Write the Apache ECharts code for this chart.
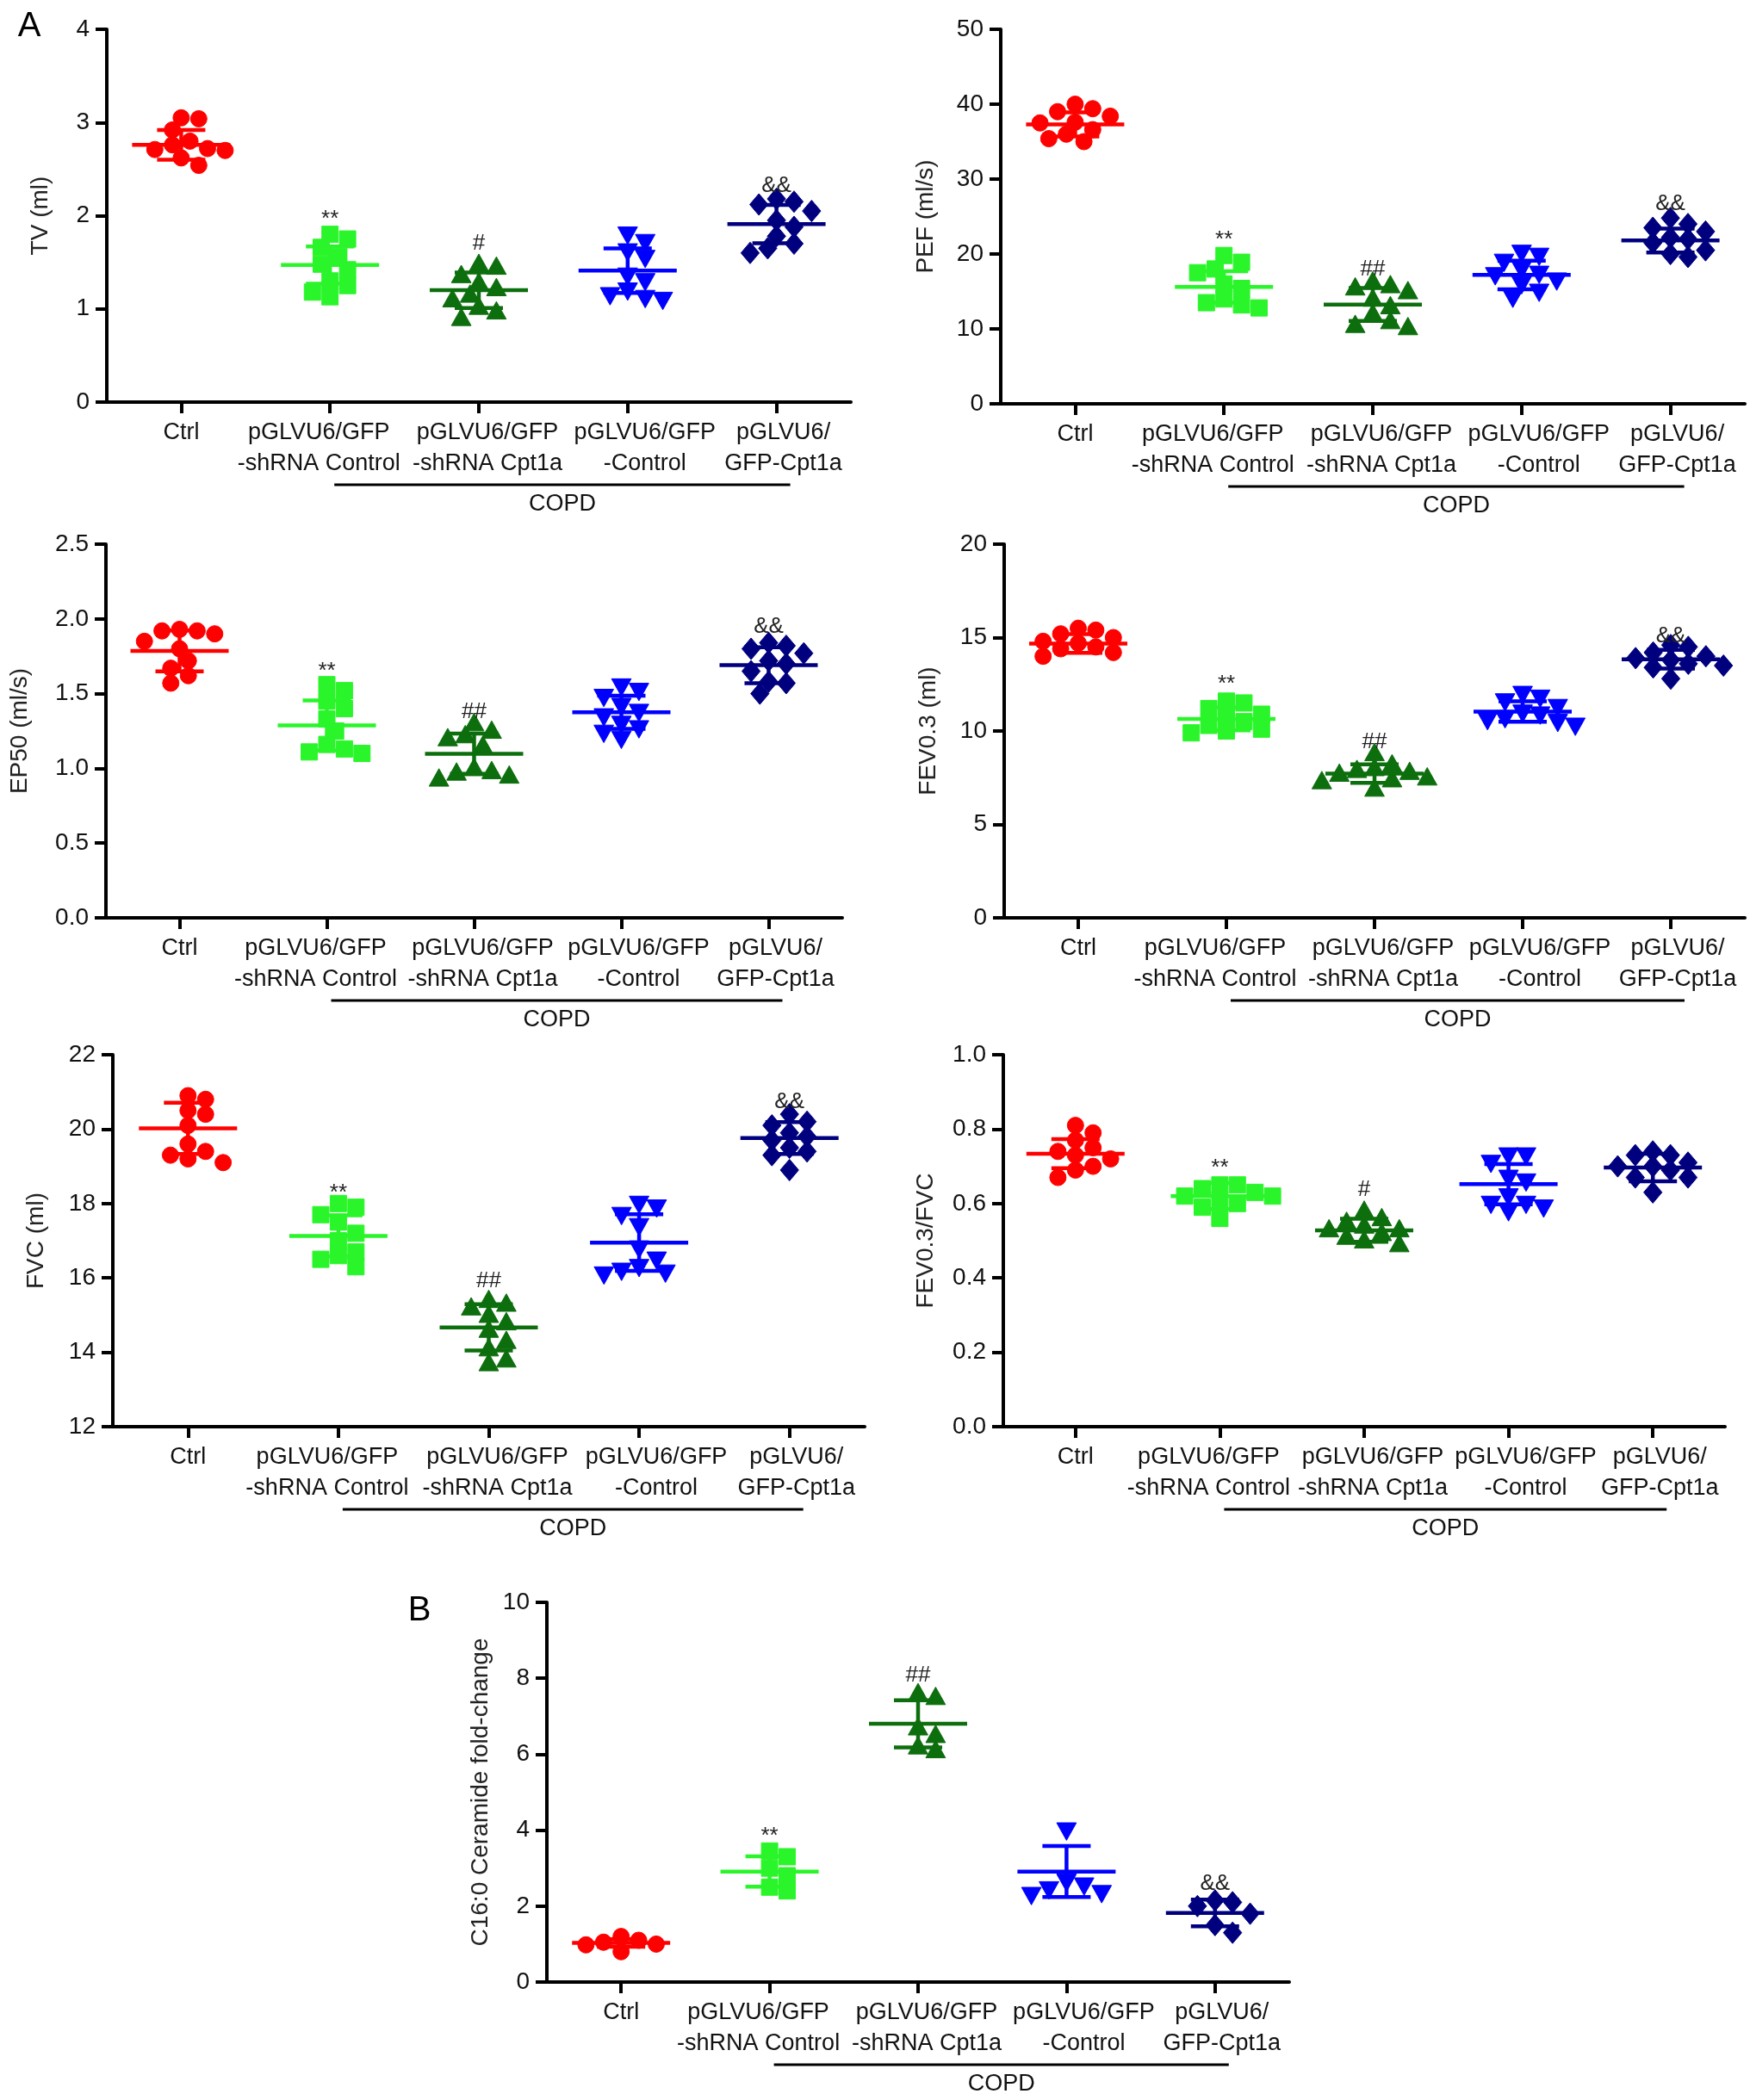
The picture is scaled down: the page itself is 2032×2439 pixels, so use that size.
<!DOCTYPE html>
<html><head><meta charset="utf-8">
<script src="https://cdn.jsdelivr.net/npm/echarts@6/dist/echarts.min.js"></script>
<style>html,body{margin:0;padding:0;background:#fff}#c{width:2032px;height:2439px}</style>
</head><body><div id="c"></div>
<script>
// ---------- categories ----------
const categories = ['Ctrl', 'pGLVU6/GFP\n-shRNA Control', 'pGLVU6/GFP\n-shRNA Cpt1a', 'pGLVU6/GFP\n-Control', 'pGLVU6/\nGFP-Cpt1a'];
const bracketLabel = 'COPD';

// ---------- TV (ml) ----------
const tvCtrl      = [3.05, 3.04, 2.92, 2.80, 2.76, 2.72, 2.71, 2.70, 2.62, 2.54];
const tvShControl = [1.80, 1.75, 1.66, 1.56, 1.48, 1.42, 1.30, 1.25, 1.18, 1.13];
const tvShCpt1a   = [1.48, 1.45, 1.36, 1.28, 1.22, 1.15, 1.10, 1.02, 0.97, 0.90];
const tvControl   = [1.80, 1.72, 1.62, 1.55, 1.36, 1.30, 1.20, 1.15, 1.12, 1.10];
const tvCpt1a     = [2.18, 2.15, 2.12, 2.05, 1.95, 1.88, 1.78, 1.70, 1.65, 1.60];
const tvMean = [2.76, 1.47, 1.20, 1.41, 1.91];
const tvSD   = [0.16, 0.20, 0.19, 0.24, 0.205];
const tvMarks = ['', '**', '#', '', '&&'];
const tvMarkAt = [null, 1.96, 1.70, null, 2.32];
const tvTicks = [0, 1, 2, 3, 4];

// ---------- PEF (ml/s) ----------
const pefCtrl      = [40.0, 39.4, 39.0, 38.4, 37.6, 37.5, 36.6, 36.0, 35.4, 35.0];
const pefShControl = [19.8, 18.9, 18.0, 17.5, 16.0, 15.4, 14.0, 13.5, 13.2, 12.8];
const pefShCpt1a   = [16.3, 15.8, 15.5, 15.0, 14.0, 13.0, 12.0, 11.0, 10.5, 10.2];
const pefControl   = [20.2, 19.8, 19.0, 18.0, 17.4, 17.2, 16.5, 16.0, 15.0, 14.2];
const pefCpt1a     = [24.8, 24.0, 23.5, 23.0, 22.2, 22.0, 21.5, 20.5, 20.0, 19.6];
const pefMean = [37.3, 15.6, 13.25, 17.2, 21.8];
const pefSD   = [1.6, 2.1, 2.2, 1.9, 1.6];
const pefMarks = ['', '**', '##', '', '&&'];
const pefMarkAt = [null, 21.9, 17.9, null, 26.7];
const pefTicks = [0, 10, 20, 30, 40, 50];

// ---------- EP50 (ml/s) ----------
const ep50Ctrl      = [1.93, 1.92, 1.92, 1.90, 1.85, 1.80, 1.72, 1.67, 1.62, 1.57];
const ep50ShControl = [1.56, 1.52, 1.45, 1.40, 1.33, 1.25, 1.16, 1.13, 1.11, 1.10];
const ep50ShCpt1a   = [1.30, 1.25, 1.22, 1.20, 1.15, 1.00, 0.98, 0.97, 0.95, 0.93];
const ep50Control   = [1.55, 1.52, 1.48, 1.42, 1.38, 1.35, 1.30, 1.27, 1.24, 1.20];
const ep50Cpt1a     = [1.84, 1.82, 1.80, 1.77, 1.72, 1.70, 1.65, 1.58, 1.57, 1.50];
const ep50Mean = [1.786, 1.287, 1.098, 1.375, 1.69];
const ep50SD   = [0.137, 0.167, 0.135, 0.111, 0.12];
const ep50Marks = ['', '**', '##', '', '&&'];
const ep50MarkAt = [null, 1.65, 1.38, null, 1.95];
const ep50Ticks = [0.0, 0.5, 1.0, 1.5, 2.0, 2.5];

// ---------- FEV0.3 (ml) ----------
const fevCtrl      = [15.5, 15.4, 15.2, 15.0, 14.8, 14.7, 14.5, 14.4, 14.2, 14.0];
const fevShControl = [11.6, 11.5, 11.2, 10.9, 10.8, 10.5, 10.3, 10.1, 10.0, 9.9];
const fevShCpt1a   = [8.8, 8.2, 8.0, 7.9, 7.8, 7.7, 7.5, 7.4, 7.3, 6.9];
const fevControl   = [12.0, 11.8, 11.6, 11.3, 11.0, 10.9, 10.7, 10.6, 10.5, 10.3];
const fevCpt1a     = [14.6, 14.5, 14.2, 14.0, 13.9, 13.8, 13.6, 13.5, 13.4, 12.8];
const fevMean = [14.68, 10.65, 7.72, 11.04, 13.84];
const fevSD   = [0.5, 0.62, 0.5, 0.55, 0.5];
const fevMarks = ['', '**', '##', '', '&&'];
const fevMarkAt = [null, 12.5, 9.4, null, 15.1];
const fevTicks = [0, 5, 10, 15, 20];

// ---------- FVC (ml) ----------
const fvcCtrl      = [20.9, 20.8, 20.5, 20.4, 20.1, 19.6, 19.4, 19.3, 19.2, 19.1];
const fvcShControl = [18.0, 17.9, 17.7, 17.5, 17.2, 17.0, 16.7, 16.6, 16.5, 16.3];
const fvcShCpt1a   = [15.4, 15.3, 15.2, 15.0, 14.8, 14.6, 14.3, 14.1, 13.8, 13.7];
const fvcControl   = [18.0, 17.9, 17.7, 17.4, 16.8, 16.5, 16.3, 16.2, 16.15, 16.1];
const fvcCpt1a     = [20.4, 20.2, 20.1, 19.9, 19.8, 19.7, 19.5, 19.4, 19.3, 18.9];
const fvcMean = [20.02, 17.13, 14.67, 16.95, 19.76];
const fvcSD   = [0.69, 0.55, 0.62, 0.76, 0.43];
const fvcMarks = ['', '**', '##', '', '&&'];
const fvcMarkAt = [null, 18.27, 15.91, null, 20.74];
const fvcTicks = [12, 14, 16, 18, 20, 22];

// ---------- FEV0.3/FVC ----------
const ratioCtrl      = [0.81, 0.79, 0.77, 0.75, 0.74, 0.73, 0.72, 0.70, 0.69, 0.67];
const ratioShControl = [0.65, 0.65, 0.64, 0.63, 0.62, 0.62, 0.61, 0.60, 0.59, 0.56];
const ratioShCpt1a   = [0.58, 0.56, 0.55, 0.54, 0.53, 0.53, 0.52, 0.51, 0.50, 0.49];
const ratioControl   = [0.73, 0.73, 0.71, 0.67, 0.66, 0.62, 0.60, 0.60, 0.59, 0.58];
const ratioCpt1a     = [0.74, 0.73, 0.73, 0.71, 0.70, 0.70, 0.69, 0.67, 0.67, 0.63];
const ratioMean = [0.734, 0.62, 0.528, 0.652, 0.697];
const ratioSD   = [0.039, 0.035, 0.031, 0.054, 0.037];
const ratioMarks = ['', '**', '#', '', ''];
const ratioMarkAt = [null, 0.694, 0.636, null, null];
const ratioTicks = [0.0, 0.2, 0.4, 0.6, 0.8, 1.0];

// ---------- C16:0 Ceramide fold-change ----------
const cerCtrl      = [1.20, 1.10, 1.05, 1.00, 0.98, 0.80];
const cerShControl = [3.45, 3.30, 3.00, 2.80, 2.50, 2.40];
const cerShCpt1a   = [7.60, 7.50, 6.70, 6.50, 6.20, 6.10];
const cerControl   = [4.00, 2.65, 2.55, 2.45, 2.35, 2.30];
const cerCpt1a     = [2.15, 2.10, 2.00, 1.80, 1.50, 1.30];
const cerMean = [1.03, 2.91, 6.80, 2.91, 1.82];
const cerSD   = [0.10, 0.40, 0.62, 0.67, 0.35];
const cerMarks = ['', '**', '##', '', '&&'];
const cerMarkAt = [null, 3.83, 8.07, null, 2.60];
const cerTicks = [0, 2, 4, 6, 8, 10];

// ---------- styles / layout ----------
const groupColors = ['#ff0000', '#2af52a', '#0d6e0d', '#0000ff', '#00007f'];
const groupShapes = ['circle', 'square', 'triangle', 'triangleDown', 'diamond'];
const labelShift = [0, -13, 10, 20, 8];   // px nudge of the category labels
const FONT = '"Liberation Sans", Arial, Helvetica, sans-serif';

const panels = [
  {name: 'TV (ml)', groups: [tvCtrl, tvShControl, tvShCpt1a, tvControl, tvCpt1a], mean: tvMean, sd: tvSD, marks: tvMarks, markAt: tvMarkAt, ticks: tvTicks, dec: 0,
   grid: {left: 124, top: 34, width: 864, height: 433}, nameGap: 63},
  {name: 'PEF (ml/s)', groups: [pefCtrl, pefShControl, pefShCpt1a, pefControl, pefCpt1a], mean: pefMean, sd: pefSD, marks: pefMarks, markAt: pefMarkAt, ticks: pefTicks, dec: 0,
   grid: {left: 1162, top: 34, width: 864, height: 435}, nameGap: 73},
  {name: 'EP50 (ml/s)', groups: [ep50Ctrl, ep50ShControl, ep50ShCpt1a, ep50Control, ep50Cpt1a], mean: ep50Mean, sd: ep50SD, marks: ep50Marks, markAt: ep50MarkAt, ticks: ep50Ticks, dec: 1,
   grid: {left: 123, top: 632, width: 855, height: 434}, nameGap: 86},
  {name: 'FEV0.3 (ml)', groups: [fevCtrl, fevShControl, fevShCpt1a, fevControl, fevCpt1a], mean: fevMean, sd: fevSD, marks: fevMarks, markAt: fevMarkAt, ticks: fevTicks, dec: 0,
   grid: {left: 1166, top: 632, width: 860, height: 434}, nameGap: 74},
  {name: 'FVC (ml)', groups: [fvcCtrl, fvcShControl, fvcShCpt1a, fvcControl, fvcCpt1a], mean: fvcMean, sd: fvcSD, marks: fvcMarks, markAt: fvcMarkAt, ticks: fvcTicks, dec: 0,
   grid: {left: 131, top: 1225, width: 873, height: 432}, nameGap: 75},
  {name: 'FEV0.3/FVC', groups: [ratioCtrl, ratioShControl, ratioShCpt1a, ratioControl, ratioCpt1a], mean: ratioMean, sd: ratioSD, marks: ratioMarks, markAt: ratioMarkAt, ticks: ratioTicks, dec: 1,
   grid: {left: 1165, top: 1225, width: 838, height: 432}, nameGap: 76},
  {name: 'C16:0 Ceramide fold-change', groups: [cerCtrl, cerShControl, cerShCpt1a, cerControl, cerCpt1a], mean: cerMean, sd: cerSD, marks: cerMarks, markAt: cerMarkAt, ticks: cerTicks, dec: 0,
   grid: {left: 635, top: 1861, width: 862, height: 441}, nameGap: 63}
];

const SYM = 19;        // marker size (px)
const SPACING = 17;    // swarm collision distance (px)
const MEAN_HALF = 57, CAP_HALF = 28, BAR_W = 4.5;

// deterministic beeswarm: returns horizontal pixel offsets for pixel ys
function swarm(ys, d) {
  const off = new Array(ys.length).fill(0), placed = [];
  for (let i = 0; i < ys.length; i++) {
    for (let k = 0; k < 60; k++) {
      const step = k === 0 ? 0 : (k % 2 === 1 ? Math.ceil(k / 2) : -Math.ceil(k / 2));
      const dx = step * d * 0.6;
      let ok = true;
      for (const j of placed) {
        const ex = off[j] - dx, ey = ys[j] - ys[i];
        if (ex * ex + ey * ey < d * d * 0.999) { ok = false; break; }
      }
      if (ok) { off[i] = dx; break; }
    }
    placed.push(i);
  }
  return off;
}

function shapeEl(kind, x, y, s, color) {
  const h = s / 2;
  const style = {fill: color, stroke: color, lineWidth: 1};
  if (kind === 'circle') return {type: 'circle', shape: {cx: x, cy: y, r: h}, style};
  if (kind === 'square') return {type: 'rect', shape: {x: x - h, y: y - h, width: s, height: s}, style};
  if (kind === 'triangle') return {type: 'polygon', shape: {points: [[x, y - s * 0.62], [x - s * 0.6, y + s * 0.45], [x + s * 0.6, y + s * 0.45]]}, style};
  if (kind === 'triangleDown') return {type: 'polygon', shape: {points: [[x, y + s * 0.62], [x - s * 0.6, y - s * 0.45], [x + s * 0.6, y - s * 0.45]]}, style};
  return {type: 'polygon', shape: {points: [[x, y - s * 0.66], [x + s * 0.56, y], [x, y + s * 0.66], [x - s * 0.56, y]]}, style};
}

const catData = categories.map((c, i) => {
  const s = labelShift[i];
  return {value: c, textStyle: {padding: s >= 0 ? [0, 0, 0, 2 * s] : [0, -2 * s, 0, 0]}};
});

const grids = [], xAxes = [], yAxes = [], series = [];
panels.forEach((P, pi) => {
  grids.push(Object.assign({outerBoundsMode: 'none', containLabel: false}, P.grid));
  xAxes.push({
    type: 'category', gridIndex: pi, data: catData, boundaryGap: true,
    axisLine: {show: true, lineStyle: {color: '#000', width: 4}},
    axisTick: {show: true, alignWithLabel: true, interval: 0, length: 13, lineStyle: {color: '#000', width: 4}},
    axisLabel: {interval: 0, fontSize: 27, fontFamily: FONT, color: '#111', lineHeight: 36, margin: 18, hideOverlap: false},
    splitLine: {show: false}
  });
  const t = P.ticks;
  yAxes.push({
    type: 'value', gridIndex: pi, min: t[0], max: t[t.length - 1], interval: t[1] - t[0],
    name: P.name, nameLocation: 'middle', nameGap: P.nameGap,
    nameTextStyle: {fontSize: 28, fontFamily: FONT, color: '#222'},
    axisLine: {show: true, onZero: false, lineStyle: {color: '#000', width: 4}},
    axisTick: {show: true, length: 13, lineStyle: {color: '#000', width: 4}},
    axisLabel: {fontSize: 28, fontFamily: FONT, color: '#111', margin: 20, formatter: v => v.toFixed(P.dec)},
    splitLine: {show: false}
  });
  // points
  P.groups.forEach((vals, gi) => {
    series.push({
      type: 'custom', coordinateSystem: 'cartesian2d', xAxisIndex: pi, yAxisIndex: pi, z: 3,
      data: vals.map((v, k) => [gi, v, k]), encode: {x: 0, y: 1},
      renderItem: function (params, api) {
        const k = api.value(2);
        const pys = vals.map(v => api.coord([gi, v])[1]);
        const off = swarm(pys, SPACING);
        const c = api.coord([gi, vals[k]]);
        return shapeEl(groupShapes[gi], c[0] + off[k], c[1], SYM, groupColors[gi]);
      }
    });
  });
  // mean ± SD
  series.push({
    type: 'custom', coordinateSystem: 'cartesian2d', xAxisIndex: pi, yAxisIndex: pi, z: 4,
    data: P.mean.map((m, i) => [i, m, P.sd[i]]), encode: {x: 0, y: 1},
    renderItem: function (params, api) {
      const i = api.value(0), m = api.value(1), s = api.value(2);
      const c = api.coord([i, m]), hi = api.coord([i, m + s]), lo = api.coord([i, m - s]);
      const st = {stroke: groupColors[i], lineWidth: BAR_W};
      return {type: 'group', children: [
        {type: 'line', shape: {x1: c[0] - MEAN_HALF, y1: c[1], x2: c[0] + MEAN_HALF, y2: c[1]}, style: st},
        {type: 'line', shape: {x1: c[0], y1: hi[1], x2: c[0], y2: lo[1]}, style: st},
        {type: 'line', shape: {x1: c[0] - CAP_HALF, y1: hi[1], x2: c[0] + CAP_HALF, y2: hi[1]}, style: st},
        {type: 'line', shape: {x1: c[0] - CAP_HALF, y1: lo[1], x2: c[0] + CAP_HALF, y2: lo[1]}, style: st}
      ]};
    }
  });
  // significance marks
  const markData = [];
  P.marks.forEach((m, i) => { if (m) markData.push([i, P.markAt[i]]); });
  series.push({
    type: 'custom', coordinateSystem: 'cartesian2d', xAxisIndex: pi, yAxisIndex: pi, z: 5,
    data: markData, encode: {x: 0, y: 1},
    renderItem: function (params, api) {
      const i = api.value(0);
      const c = api.coord([i, api.value(1)]);
      return {type: 'text', x: c[0], y: c[1], style: {text: P.marks[i], fill: '#222', fontSize: 26, fontFamily: FONT,
        textAlign: 'center', textVerticalAlign: 'middle', align: 'center', verticalAlign: 'middle'}};
    }
  });
});

const chart = echarts.init(document.getElementById('c'), null, {renderer: 'canvas'});
chart.setOption({
  animation: false, backgroundColor: '#fff',
  grid: grids, xAxis: xAxes, yAxis: yAxes, series: series
});

// panel letters and COPD brackets (positioned from the axes)
const gfx = [
  {type: 'text', x: 34, y: 31, style: {text: 'A', fontSize: 40, fontFamily: FONT, fill: '#000', textAlign: 'center', textVerticalAlign: 'middle', align: 'center', verticalAlign: 'middle'}},
  {type: 'text', x: 487, y: 1871, style: {text: 'B', fontSize: 40, fontFamily: FONT, fill: '#000', textAlign: 'center', textVerticalAlign: 'middle', align: 'center', verticalAlign: 'middle'}}
];
panels.forEach((P, pi) => {
  const x1 = chart.convertToPixel({xAxisIndex: pi}, 1) + 5;
  const x2 = chart.convertToPixel({xAxisIndex: pi}, 4) + 16;
  const y = chart.convertToPixel({yAxisIndex: pi}, P.ticks[0]) + 96;
  gfx.push({type: 'line', shape: {x1: x1, y1: y, x2: x2, y2: y}, style: {stroke: '#000', lineWidth: 3}});
  gfx.push({type: 'text', x: (x1 + x2) / 2, y: y + 23, style: {text: bracketLabel, fontSize: 27, fontFamily: FONT, fill: '#111', textAlign: 'center', textVerticalAlign: 'middle', align: 'center', verticalAlign: 'middle'}});
});
chart.setOption({graphic: gfx});
</script>
</body></html>
